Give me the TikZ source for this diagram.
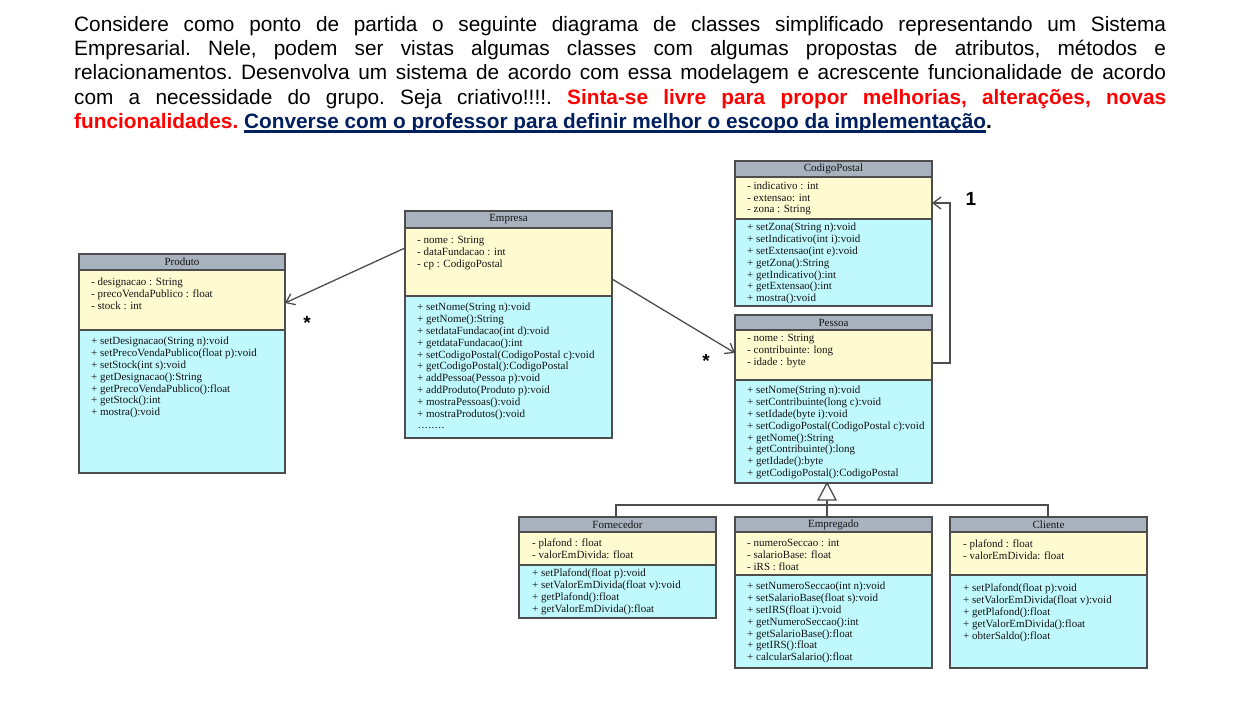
\documentclass[tikz,border=0pt]{standalone}
\usepackage{fontspec}
\setmainfont{Liberation Serif}
\newfontfamily\arialf{Liberation Sans}
\usetikzlibrary{fit,arrows.meta}
\definecolor{hdrgray}{HTML}{A9B3BF}
\definecolor{attryel}{HTML}{FFFBD1}
\definecolor{methcyan}{HTML}{BFF9FE}
\definecolor{boxline}{HTML}{4D4D4D}
\definecolor{navyul}{HTML}{002060}
\definecolor{redtxt}{HTML}{FF0000}
\newcommand\ulnavy[1]{\setbox0\hbox{#1}\rlap{\color{navyul}\rule[-4.6pt]{\wd0}{2.4pt}}\box0}
\newcommand\umlbox[7]{%
  \node[hdrbox, fit={(#2,#4) (#3,#5)}] (#1-h) {};
  \node[attrbox, fit={(#2,#5) (#3,#6)}] (#1-a) {};
  \node[methbox, fit={(#2,#6) (#3,#7)}] (#1-m) {};
}
\newcommand\ctext[4]{\node[ctxt] at ([xshift=#2,yshift=#3]#1.north west) {#4};}
\begin{document}
\begin{tikzpicture}[x=1pt,y=-1pt,
  hdrbox/.style={draw=boxline, line width=1.2pt, fill=hdrgray, inner sep=0pt, outer sep=0pt},
  attrbox/.style={hdrbox, fill=attryel},
  methbox/.style={hdrbox, fill=methcyan},
  ctxt/.style={anchor=north west, inner sep=0pt, align=left, text=black!92, font=\fontsize{11}{11.8}\selectfont},
  ctitle/.style={inner sep=0pt, text=black!92, font=\fontsize{11}{11.8}\selectfont},
  toptext/.style={anchor=base west, inner sep=0pt, font=\arialf\fontsize{20.8}{24}\selectfont\frenchspacing},
  mult/.style={inner sep=0pt, font=\arialf\bfseries\fontsize{19}{20}\selectfont},
  conn/.style={draw=boxline, line width=1.3pt},
  arr/.style={conn, -{Straight Barb[length=8pt,width=12pt,line width=1.3pt]}}
]
\fill[white] (0,0) rectangle (1238,703);
\useasboundingbox (0,0) rectangle (1238,703);

% ---------- top text ----------
\node[toptext] (t1) at (74,31.5) {\makebox[1092pt][s]{Considere como ponto de partida o seguinte diagrama de classes simplificado representando um Sistema}};
\node[toptext] (t2) at (74,55.7) {\makebox[1092pt][s]{Empresarial. Nele, podem ser vistas algumas classes com algumas propostas de atributos, métodos e}};
\node[toptext] (t3) at (74,79.9) {\makebox[1092pt][s]{relacionamentos. Desenvolva um sistema de acordo com essa modelagem e acrescente funcionalidade de acordo}};
\node[toptext] (t4) at (74,104.1) {\makebox[1092pt][s]{com a necessidade do grupo. Seja criativo!!!!. \textcolor{redtxt}{\bfseries Sinta-se livre para propor melhorias, alterações, novas}}};
\node[toptext] (t5) at (74,128.3) {\textcolor{redtxt}{\bfseries funcionalidades.} \textcolor{navyul}{\bfseries\ulnavy{Converse com o professor para definir melhor o escopo da implementação}}\textbf{.}};

% ---------- classes ----------
\umlbox{prod}{79}{285}{254}{270}{330}{473}
\node[ctitle] at (prod-h) {Produto};
\ctext{prod-a}{12}{-8}{- designacao : String\\- precoVendaPublico : float\\- stock : int}
\ctext{prod-m}{12}{-7}{+ setDesignacao(String n):void\\+ setPrecoVendaPublico(float p):void\\+ setStock(int s):void\\+ getDesignacao():String\\+ getPrecoVendaPublico():float\\+ getStock():int\\+ mostra():void}

\umlbox{empr}{405}{612}{211}{228}{296}{438}
\node[ctitle] at (empr-h) {Empresa};
\ctext{empr-a}{12}{-8}{- nome : String\\- dataFundacao : int\\- cp : CodigoPostal}
\ctext{empr-m}{12}{-7}{+ setNome(String n):void\\+ getNome():String\\+ setdataFundacao(int d):void\\+ getdataFundacao():int\\+ setCodigoPostal(CodigoPostal c):void\\+ getCodigoPostal():CodigoPostal\\+ addPessoa(Pessoa p):void\\+ addProduto(Produto p):void\\+ mostraPessoas():void\\+ mostraProdutos():void\\{\fontsize{11}{11.8}\selectfont\kern1pt.\kern0.6pt.\kern0.6pt.\kern0.6pt.\kern0.6pt.\kern0.6pt.\kern0.6pt.\kern0.6pt.}}

\umlbox{cp}{735}{932}{161}{177}{219}{306}
\node[ctitle] at (cp-h) {CodigoPostal};
\ctext{cp-a}{12}{-4.5}{- indicativo : int\\- extensao: int\\- zona : String}
\ctext{cp-m}{12}{-4}{+ setZona(String n):void\\+ setIndicativo(int i):void\\+ setExtensao(int e):void\\+ getZona():String\\+ getIndicativo():int\\+ getExtensao():int\\+ mostra():void}

\umlbox{pes}{735}{932}{315}{330}{380}{483}
\node[ctitle] at (pes-h) {Pessoa};
\ctext{pes-a}{12}{-4}{- nome : String\\- contribuinte: long\\- idade : byte}
\ctext{pes-m}{12}{-6}{+ setNome(String n):void\\+ setContribuinte(long c):void\\+ setIdade(byte i):void\\+ setCodigoPostal(CodigoPostal c):void\\+ getNome():String\\+ getContribuinte():long\\+ getIdade():byte\\+ getCodigoPostal():CodigoPostal}

\umlbox{forn}{519}{716}{517}{532}{565}{618}
\node[ctitle] at (forn-h) {Fornecedor};
\ctext{forn-a}{13}{-7}{- plafond : float\\- valorEmDivida: float}
\ctext{forn-m}{13}{-4}{+ setPlafond(float p):void\\+ setValorEmDivida(float v):void\\+ getPlafond():float\\+ getValorEmDivida():float}

\umlbox{empg}{735}{932}{517}{532}{575}{668}
\node[ctitle] at (empg-h) {Empregado};
\ctext{empg-a}{12}{-7}{- numeroSeccao : int\\- salarioBase: float\\- iRS : float}
\ctext{empg-m}{12}{-7}{+ setNumeroSeccao(int n):void\\+ setSalarioBase(float s):void\\+ setIRS(float i):void\\+ getNumeroSeccao():int\\+ getSalarioBase():float\\+ getIRS():float\\+ calcularSalario():float}

\umlbox{cli}{950}{1147}{517}{532}{575}{668}
\node[ctitle] at (cli-h) {Cliente};
\ctext{cli-a}{13}{-8}{- plafond : float\\- valorEmDivida: float}
\ctext{cli-m}{13}{-9}{+ setPlafond(float p):void\\+ setValorEmDivida(float v):void\\+ getPlafond():float\\+ getValorEmDivida():float\\+ obterSaldo():float}

% ---------- associations ----------
\draw[arr] ([yshift=14]empr-a.west) -- ([yshift=-3]prod-a.east);
\node[mult] (m1) at (307,323) {*};
\draw[arr] ([yshift=-17]empr-a.east) -- ([yshift=2]pes-a.west);
\node[mult] (m2) at (706,361) {*};
\draw[arr] ([yshift=-8]pes-a.east) -- ([yshift=-8,xshift=18]pes-a.east) |- ([yshift=-5]cp-a.east);
\node[mult] (m3) at (971,199) {1};

% ---------- inheritance ----------
\coordinate (tip) at ([xshift=-6.5]pes-m.south);
\coordinate (tbase) at ([yshift=-17]tip);
\draw[conn] ([xshift=-1.5]forn-h.north) -- ++(0,-12) -| ([xshift=-0.5]cli-h.north);
\draw[conn] (tbase) -- (tip |- empg-h.north);
\draw[conn, fill=white, line join=miter] (tip) -- ++(-9,17) -- ++(18,0) -- cycle;
\end{tikzpicture}
\end{document}
